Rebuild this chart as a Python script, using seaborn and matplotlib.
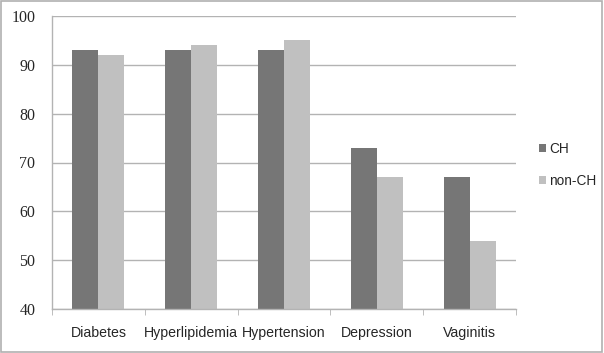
import pandas as pd
import matplotlib.pyplot as plt
import seaborn as sns
from matplotlib.patches import Rectangle

# Data
conditions = ["Diabetes", "Hyperlipidemia", "Hypertension", "Depression", "Vaginitis"]
ch_values = [93, 93, 93, 73, 67]
non_ch_values = [92, 94, 95, 67, 54]
groups = ["CH", "non-CH"]

df = pd.DataFrame({
    "condition": conditions * 2,
    "group": [groups[0]] * len(conditions) + [groups[1]] * len(conditions),
    "value": ch_values + non_ch_values,
})

sns.set_style("white")
plt.rcParams["font.family"] = ["Liberation Sans", "DejaVu Sans"]

fig = plt.figure(figsize=(6.04, 3.53), dpi=100)
ax = fig.add_axes([52 / 604, 1 - 309 / 353, (516 - 52) / 604, (309 - 16) / 353])

sns.barplot(data=df, x="condition", y="value", hue="group",
            palette=["#767676", "#c0c0c0"], width=0.56, gap=0,
            saturation=1, linewidth=0, ax=ax, zorder=2)

ax.set_ylim(40, 100)
ax.set_yticks(range(40, 101, 10))
ax.yaxis.grid(True, color="#b3b3b3", linewidth=1, zorder=0)
ax.set_axisbelow(True)
ax.set_xlabel("")
ax.set_ylabel("")

for s in ["top", "right"]:
    ax.spines[s].set_visible(False)
for s in ["left", "bottom"]:
    ax.spines[s].set_color("#b3b3b3")
    ax.spines[s].set_linewidth(1)

ax.tick_params(axis="y", length=0, pad=12, labelsize=11.5)
for lbl in ax.get_yticklabels():
    lbl.set_family(["Liberation Serif", "DejaVu Serif"])
ax.set_xticks([i + 0.5 for i in range(-1, len(conditions))], minor=True)
ax.tick_params(axis="x", which="major", length=0, pad=12, labelsize=10.2)
ax.tick_params(axis="x", which="minor", length=4, color="#b3b3b3", bottom=True)
ax.set_xlim(-0.5, len(conditions) - 0.5)

handles, labels = ax.get_legend_handles_labels()
ax.legend(handles, labels, loc="center left", bbox_to_anchor=(527 / 604, 0.533),
          bbox_transform=fig.transFigure, frameon=False, fontsize=9.8,
          handlelength=0.5, handleheight=0.5, handletextpad=0.25, labelspacing=1.3)

fig.patches.append(Rectangle((0.002, 0.003), 0.995, 0.993, transform=fig.transFigure,
                             fill=False, edgecolor="#b0b0b0", linewidth=1.2))

fig.savefig("out.png", dpi=100)
